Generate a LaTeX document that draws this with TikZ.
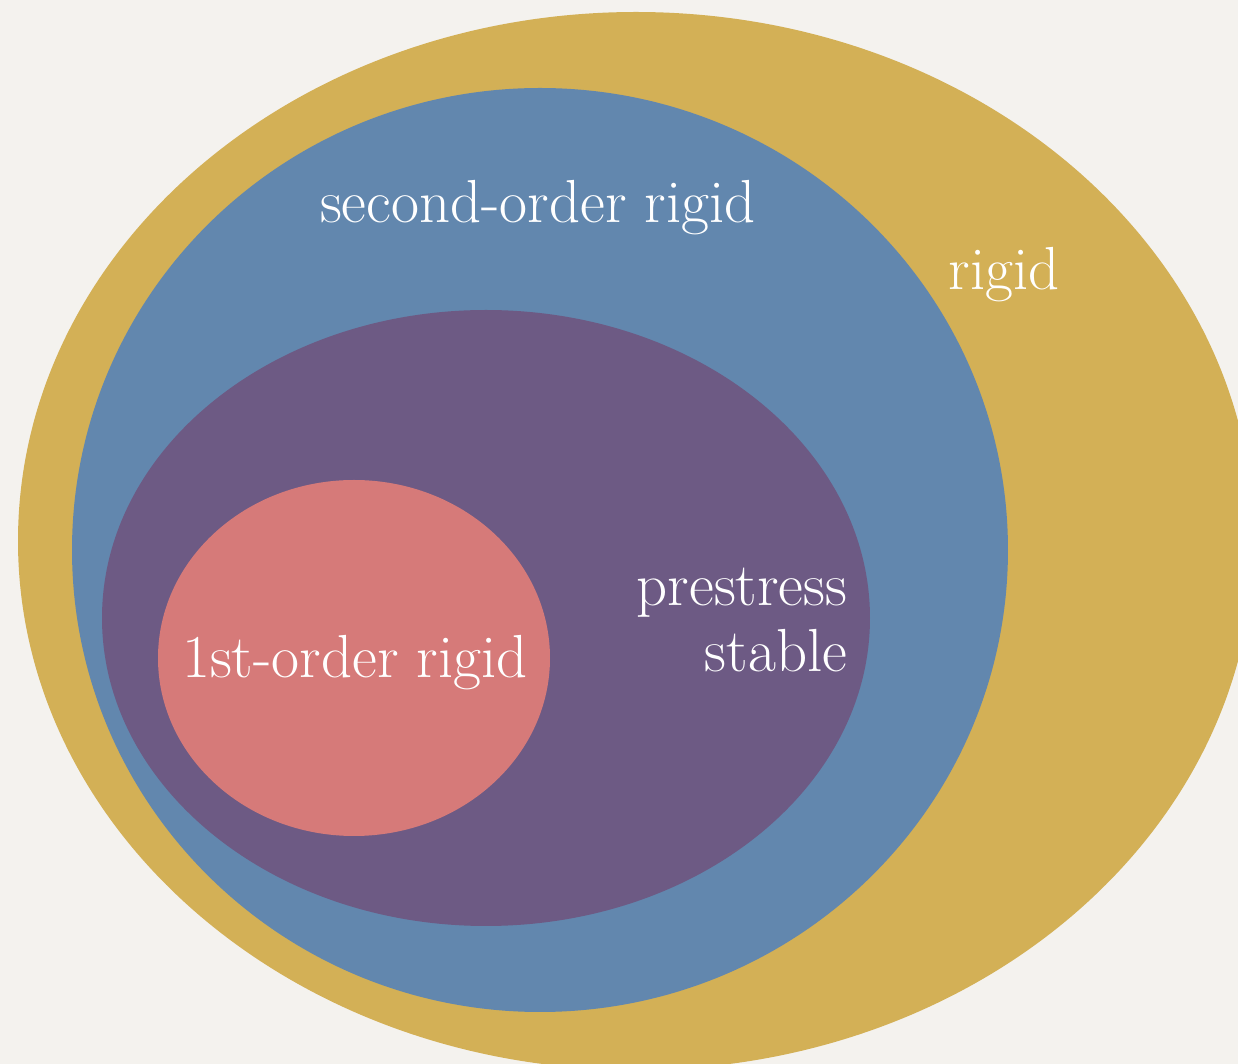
\documentclass[tikz,border=0pt]{standalone}
\usepackage{xcolor}

\definecolor{paper}{HTML}{F4F2EE}
\definecolor{gold}{HTML}{D3B056}
\definecolor{slate}{HTML}{6287AE}
\definecolor{plum}{HTML}{6D5A84}
\definecolor{rose}{HTML}{D67A79}

\begin{document}
\begin{tikzpicture}[x=0.01cm,y=-0.01cm,
    lbl/.style={text=white,inner sep=0pt,font=\fontsize{17.3}{19}\selectfont}]
    \useasboundingbox (0,0) rectangle (1238,1064);
    \clip (0,0) rectangle (1238,1064);
    \fill[paper] (0,0) rectangle (1238,1064);

    \fill[gold] (636,541) ellipse [x radius=618, y radius=529];
    \fill[slate] (540,550) ellipse [x radius=468, y radius=462];
    \fill[plum] (486,618) ellipse [x radius=384, y radius=308];
    \fill[rose] (354,658) ellipse [x radius=196, y radius=178];

    \node[lbl,anchor=base] (second) at (538,223) {second-order rigid};
    \node[lbl,anchor=base] (rigid) at (1004,290) {rigid};
    \node[lbl,anchor=base east,align=right] (prestress) at (848,672) {prestress\\stable};
    \node[lbl,anchor=base] (first) at (355,678) {1st-order rigid};
\end{tikzpicture}
\end{document}
